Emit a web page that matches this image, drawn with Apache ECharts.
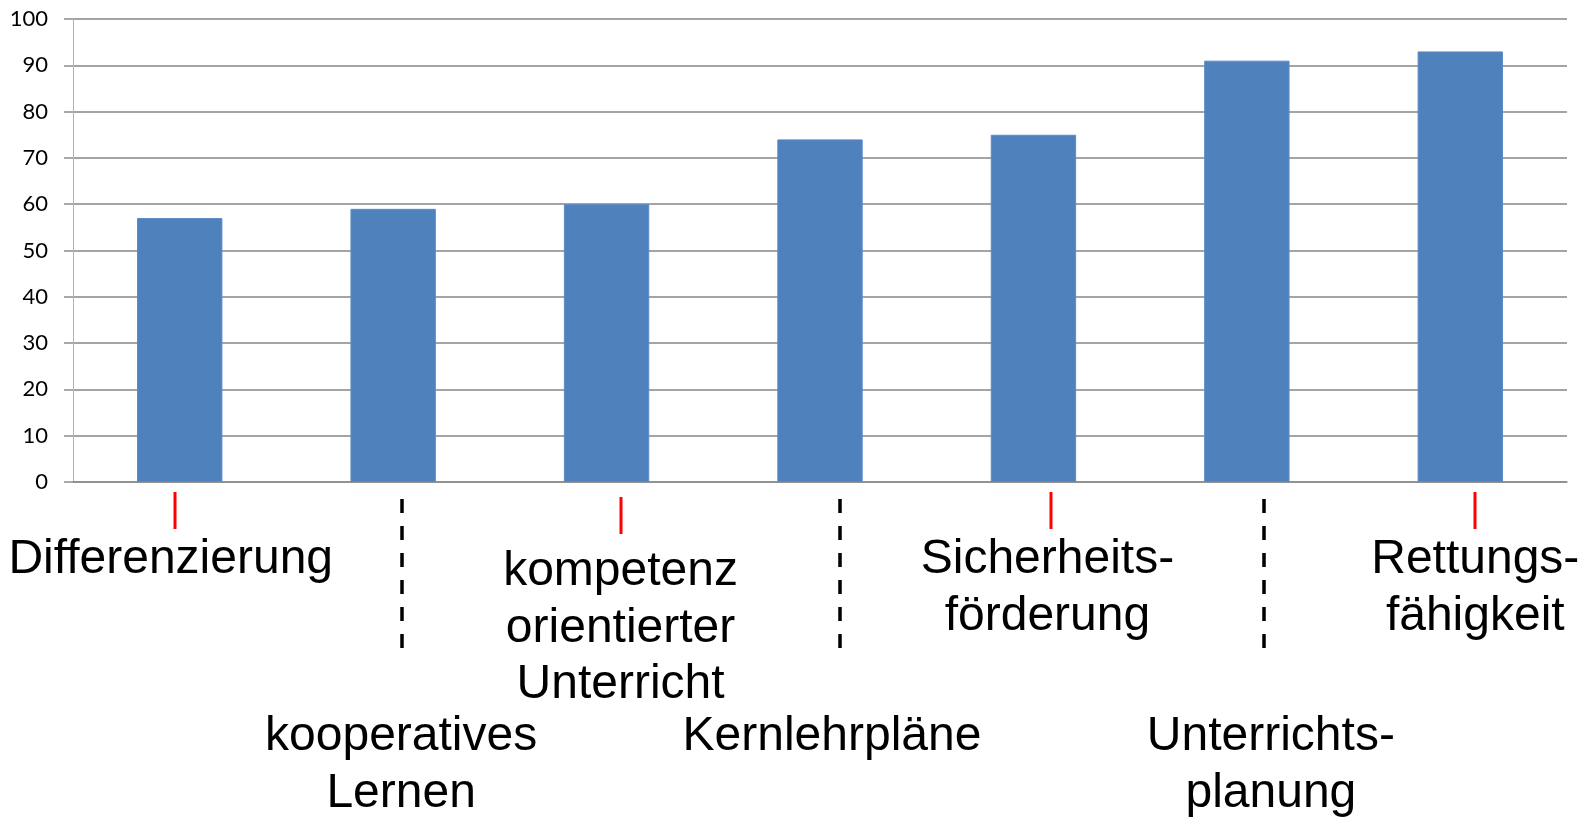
<!DOCTYPE html>
<html>
<head>
<meta charset="utf-8">
<title>Fortbildungsthemen</title>
<script src="https://cdn.jsdelivr.net/npm/echarts@6/dist/echarts.min.js"></script>
<style>
  html, body { margin: 0; padding: 0; background: #fff; }
  #main { width: 1586px; height: 817px; }
</style>
</head>
<body>
<div id="main"></div>
<script>
// Kategorien (Zeilenumbrüche wie in der Vorlage)
const categories = [
  'Differenzierung',
  'kooperatives\nLernen',
  'kompetenz\norientierter\nUnterricht',
  'Kernlehrpläne',
  'Sicherheits-\nförderung',
  'Unterrichts-\nplanung',
  'Rettungs-\nfähigkeit'
]
const values = [57, 59, 60, 74, 75, 91, 93]
const yTicks = [0, 10, 20, 30, 40, 50, 60, 70, 80, 90, 100]

// Beschriftungen stehen abwechselnd oben (rot markiert) und unten (gestrichelt)
const labelRow = ['top', 'bottom', 'top', 'bottom', 'top', 'bottom', 'top']
// leichte horizontale Verschiebung der Beschriftung gegenüber der Kategoriemitte
const labelShift = [-9, 8, 14, 12, 14, 24, 15]
const markerShift = [-5, 9, 14, 20, 18, 17, 15]

const LINE_H = 56.5

const chart = echarts.init(document.getElementById('main'), null, { renderer: 'canvas' })

function categoryItem (name, i) {
  const dx = labelShift[i]
  let top = 0
  if (labelRow[i] === 'bottom') top = 177
  if (i === 2) top = 12 // "kompetenz..." sitzt etwas tiefer
  return {
    value: name,
    textStyle: {
      padding: [top, dx < 0 ? -2 * dx : 0, 0, dx > 0 ? 2 * dx : 0]
    }
  }
}

const option = {
  backgroundColor: '#ffffff',
  animation: false,
  grid: {
    left: 73,
    right: 19,
    top: 19,
    bottom: 335,
    containLabel: false,
    outerBoundsMode: 'none'
  },
  xAxis: {
    type: 'category',
    data: categories.map(categoryItem),
    axisLine: { show: true, lineStyle: { color: '#8c8c8c', width: 1.5 } },
    axisTick: { show: false },
    splitLine: { show: false },
    axisLabel: {
      interval: 0,
      margin: 50,
      color: '#000000',
      fontFamily: '"Liberation Sans", Arial, sans-serif',
      fontSize: 48,
      lineHeight: LINE_H,
      align: 'center',
      verticalAlign: 'top'
    }
  },
  yAxis: {
    type: 'value',
    min: yTicks[0],
    max: yTicks[yTicks.length - 1],
    interval: 10,
    axisLine: { show: true, lineStyle: { color: '#b3b3b3', width: 1 } },
    axisTick: { show: true, inside: false, length: 9, lineStyle: { color: '#8c8c8c', width: 1.5 } },
    splitLine: { show: true, lineStyle: { color: '#868686', width: 1.5 } },
    axisLabel: {
      margin: 25,
      color: '#000000',
      fontFamily: 'Lato, "Open Sans", sans-serif',
      fontSize: 22
    }
  },
  series: [
    {
      type: 'bar',
      data: values,
      barWidth: '40%',
      itemStyle: {
        color: '#4f81bd',
        borderColor: '#5b8bc6',
        borderWidth: 1
      }
    }
  ]
}

chart.setOption(option)

// rote Markierungen und gestrichelte Trennlinien unter der Achse
function drawMarkers () {
  const axisY = chart.convertToPixel({ yAxisIndex: 0 }, 0)
  const elements = []
  categories.forEach((name, i) => {
    const x = Math.round(chart.convertToPixel({ xAxisIndex: 0 }, i) + markerShift[i])
    if (labelRow[i] === 'top') {
      const off = i === 2 ? 5 : 0
      elements.push({
        type: 'line',
        silent: true,
        shape: { x1: x, y1: axisY + 10 + off, x2: x, y2: axisY + 47 + off },
        style: { stroke: '#ff0000', lineWidth: 3 }
      })
    } else {
      elements.push({
        type: 'line',
        silent: true,
        shape: { x1: x, y1: axisY + 17, x2: x, y2: axisY + 173 },
        style: { stroke: '#000000', lineWidth: 3.5, lineDash: [14, 13] }
      })
    }
  })
  chart.setOption({ graphic: elements })
}
drawMarkers()

window.addEventListener('resize', () => {
  chart.resize()
  drawMarkers()
})
</script>
</body>
</html>
